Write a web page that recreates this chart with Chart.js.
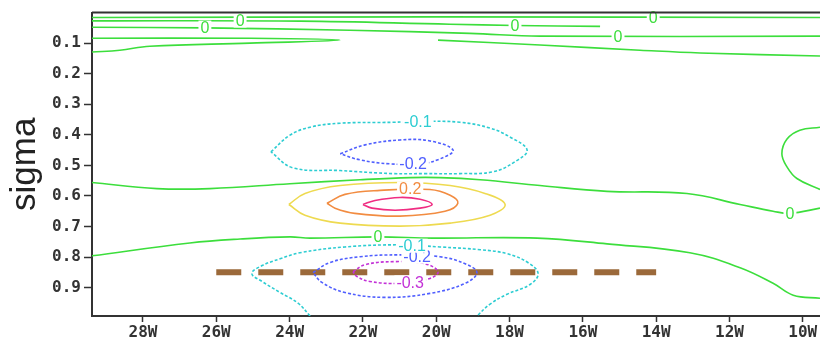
<!DOCTYPE html>
<html>
<head>
<meta charset="utf-8">
<script src="https://cdn.jsdelivr.net/npm/chart.js@4.4.0/dist/chart.umd.min.js"></script>
<style>
  html, body { margin: 0; padding: 0; background: #fff; overflow: hidden; }
  #wrap { width: 820px; height: 345px; }
</style>
</head>
<body>
<div id="wrap"><canvas id="chart" width="820" height="345"></canvas></div>
<script>
// axis ticks (longitude is negative for west)
var xTicks = [-28, -26, -24, -22, -20, -18, -16, -14, -12, -10];
var yTicks = [0.1, 0.2, 0.3, 0.4, 0.5, 0.6, 0.7, 0.8, 0.9];

// contour lines, as [longitude, sigma]
// zero contours near the top
var zeroTopA = [[-29.39, 0.016], [-20, 0.014], [-9.53, 0.016]];
var zeroTopB = [[-29.39, 0.027], [-23.72, 0.028], [-19.62, 0.038], [-17.85, 0.042], [-15.53, 0.045]];
var zeroTopC = [[-29.39, 0.048], [-26.31, 0.050], [-22.35, 0.058], [-19.08, 0.068], [-17.17, 0.077], [-9.53, 0.077]];
var zeroTopD = [[-29.39, 0.084], [-25.08, 0.084], [-22.62, 0.090], [-25.08, 0.100], [-27.81, 0.110], [-28.63, 0.123], [-29.39, 0.129]];
var zeroTopE = [[-19.95, 0.090], [-17.17, 0.106], [-14.44, 0.123], [-12.80, 0.132], [-9.53, 0.142]];
// zero contours in the middle
var zeroMid = [[-29.39, 0.556], [-27.62, 0.576], [-26.17, 0.576], [-23.99, 0.560], [-22.08, 0.547], [-20.71, 0.540],
  [-19.90, 0.540], [-18.80, 0.547], [-17.17, 0.566], [-15.34, 0.585], [-13.16, 0.592], [-11.71, 0.628],
  [-10.81, 0.650], [-10.35, 0.657], [-9.53, 0.640]];
var zeroRight = [[-9.53, 0.375], [-10.08, 0.385], [-10.43, 0.414], [-10.57, 0.462], [-10.43, 0.505], [-10.16, 0.543], [-9.53, 0.579]];
var zeroLow = [[-29.39, 0.796], [-26.72, 0.754], [-25.35, 0.741], [-23.99, 0.734], [-23.44, 0.738], [-21.59, 0.734],
  [-20.09, 0.738], [-17.25, 0.738], [-15.34, 0.757], [-13.08, 0.786], [-11.71, 0.835], [-10.81, 0.886],
  [-10.26, 0.925], [-9.53, 0.935]];
// upper dipole
var negOneUp = [[-24.51, 0.456], [-23.99, 0.401], [-23.44, 0.375], [-22.62, 0.362], [-21.18, 0.359], [-20.44, 0.356],
  [-19.35, 0.359], [-18.53, 0.378], [-17.99, 0.407], [-17.52, 0.450], [-17.85, 0.488], [-18.45, 0.521],
  [-19.35, 0.527], [-20.31, 0.527], [-21.18, 0.527], [-22.62, 0.517], [-23.91, 0.508], [-24.51, 0.456]];
var negTwoUp = [[-22.62, 0.462], [-21.94, 0.433], [-20.99, 0.417], [-20.17, 0.420], [-19.54, 0.450], [-19.90, 0.479],
  [-20.44, 0.495], [-21.26, 0.495], [-22.08, 0.482], [-22.62, 0.462]];
var posOne = [[-24.02, 0.628], [-23.58, 0.592], [-22.62, 0.566], [-20.99, 0.556], [-19.62, 0.566], [-18.67, 0.592],
  [-18.12, 0.628], [-18.53, 0.663], [-19.62, 0.689], [-20.99, 0.699], [-22.62, 0.689], [-23.58, 0.663], [-24.02, 0.628]];
var posTwo = [[-22.98, 0.624], [-22.49, 0.595], [-21.53, 0.582], [-20.17, 0.579], [-19.62, 0.598], [-19.41, 0.624],
  [-19.76, 0.650], [-20.99, 0.666], [-22.22, 0.657], [-22.76, 0.640], [-22.98, 0.624]];
var posThree = [[-22.00, 0.628], [-21.67, 0.615], [-20.99, 0.605], [-20.44, 0.611], [-20.11, 0.628], [-20.44, 0.640],
  [-21.12, 0.647], [-21.75, 0.640], [-22.00, 0.628]];
// lower negative cell
var negOneLow = [[-23.44, 0.993], [-23.77, 0.951], [-24.26, 0.916], [-24.75, 0.880], [-25.03, 0.854], [-24.75, 0.828],
  [-24.26, 0.806], [-23.72, 0.786], [-22.49, 0.767], [-20.99, 0.760], [-19.90, 0.767], [-18.80, 0.776],
  [-18.07, 0.789], [-17.50, 0.818], [-17.22, 0.854], [-17.44, 0.890], [-18.07, 0.922], [-18.53, 0.954], [-18.89, 0.993]];
var negTwoLow = [[-23.36, 0.851], [-22.90, 0.818], [-22.08, 0.799], [-20.99, 0.793], [-19.90, 0.799], [-19.21, 0.822],
  [-18.89, 0.851], [-19.21, 0.886], [-20.17, 0.919], [-21.40, 0.932], [-22.49, 0.916], [-23.12, 0.883], [-23.36, 0.851]];
var negThreeLow = [[-22.27, 0.848], [-21.94, 0.825], [-21.12, 0.815], [-20.31, 0.822], [-19.95, 0.848], [-20.17, 0.870],
  [-20.99, 0.886], [-21.81, 0.880], [-22.16, 0.864], [-22.27, 0.848]];
// section marker
var sectionLine = [[-26, 0.85], [-14, 0.85]];

// contour labels
var labelLevel = [0, 0, 0, 0, 0, 0, 0, -0.1, -0.2, 0.2, -0.2, -0.1, -0.3];
var labelLon = [-25.35, -26.31, -17.85, -14.08, -15.04, -10.35, -21.59, -20.50, -20.63, -20.71, -20.52, -20.66, -20.71];
var labelSig = [0.026, 0.049, 0.043, 0.016, 0.077, 0.657, 0.734, 0.356, 0.495, 0.576, 0.799, 0.763, 0.883];

var levelColors = {
  '0': 'rgb(60,222,60)',
  '-0.1': 'rgb(45,205,210)',
  '-0.2': 'rgb(80,95,255)',
  '-0.3': 'rgb(195,50,215)',
  '0.1': 'rgb(238,218,80)',
  '0.2': 'rgb(242,140,65)',
  '0.3': 'rgb(240,45,130)'
};

var contours = [
  [zeroTopA, 0], [zeroTopB, 0], [zeroTopC, 0], [zeroTopD, 0], [zeroTopE, 0],
  [zeroMid, 0], [zeroRight, 0], [zeroLow, 0],
  [negOneUp, -0.1], [negTwoUp, -0.2], [posOne, 0.1], [posTwo, 0.2], [posThree, 0.3],
  [negOneLow, -0.1], [negTwoLow, -0.2], [negThreeLow, -0.3]
];

function toPoints(list) {
  return list.map(function (p) { return { x: p[0], y: p[1] }; });
}

var datasets = contours.map(function (c) {
  return {
    data: toPoints(c[0]),
    showLine: true,
    pointRadius: 0,
    borderColor: levelColors[String(c[1])],
    borderWidth: 1.6,
    borderDash: c[1] < 0 ? [3, 2] : [],
    tension: 0.4,
    fill: false
  };
});

datasets.push({
  data: toPoints(sectionLine),
  showLine: true,
  pointRadius: 0,
  borderColor: 'rgb(155,105,58)',
  borderWidth: 6,
  borderDash: [25, 17],
  borderCapStyle: 'butt',
  tension: 0,
  fill: false
});

var FONT = "'Liberation Sans', Arial, sans-serif";
var TICKFONT = "'DejaVu Sans Mono', monospace";

var contourLabels = {
  id: 'contourLabels',
  afterDatasetsDraw: function (chart) {
    var ctx = chart.ctx;
    var xs = chart.scales.x, ys = chart.scales.y;
    ctx.save();
    ctx.font = '16px ' + FONT;
    ctx.textAlign = 'center';
    ctx.textBaseline = 'middle';
    for (var i = 0; i < labelLevel.length; i++) {
      var lev = labelLevel[i];
      var txt = lev === 0 ? '0' : lev.toFixed(1);
      var px = xs.getPixelForValue(labelLon[i]);
      var py = ys.getPixelForValue(labelSig[i]);
      var w = ctx.measureText(txt).width;
      ctx.fillStyle = '#fff';
      ctx.fillRect(px - w / 2 - 2, py - 7, w + 4, 14);
      ctx.fillStyle = levelColors[String(lev)];
      ctx.fillText(txt, px, py + 1);
    }
    ctx.restore();
  }
};

var frame = {
  id: 'frame',
  afterDraw: function (chart) {
    var a = chart.chartArea, ctx = chart.ctx;
    ctx.save();
    ctx.strokeStyle = '#333';
    ctx.lineWidth = 2;
    ctx.beginPath();
    ctx.moveTo(a.left, a.top);
    ctx.lineTo(a.right + 2, a.top);
    ctx.stroke();
    ctx.restore();
  }
};

new Chart(document.getElementById('chart'), {
  type: 'scatter',
  data: { datasets: datasets },
  options: {
    responsive: false,
    animation: false,
    devicePixelRatio: 1,
    layout: { padding: { top: 9, left: 0, right: 0, bottom: 0 } },
    plugins: { legend: { display: false }, tooltip: { enabled: false } },
    scales: {
      x: {
        type: 'linear',
        min: -29.39,
        max: -9.53,
        afterBuildTicks: function (scale) {
          scale.ticks = xTicks.map(function (v) { return { value: v }; });
        },
        afterFit: function (scale) { scale.height = 29; },
        grid: { drawOnChartArea: false, drawTicks: true, tickLength: 6, tickColor: '#333', tickWidth: 1.5 },
        border: { display: true, color: '#333', width: 2 },
        ticks: {
          color: '#333',
          padding: 1,
          maxRotation: 0,
          font: { family: TICKFONT, size: 16, weight: 'bold' },
          callback: function (v) { return Math.abs(v) + 'W'; }
        }
      },
      y: {
        type: 'linear',
        reverse: true,
        min: 0,
        max: 0.993,
        afterBuildTicks: function (scale) {
          scale.ticks = yTicks.map(function (v) { return { value: v }; });
        },
        afterFit: function (scale) { scale.width = 92; },
        grid: { drawOnChartArea: false, drawTicks: true, tickLength: 8, tickColor: '#333', tickWidth: 1.5 },
        border: { display: true, color: '#333', width: 2 },
        ticks: {
          color: '#333',
          padding: 3,
          font: { family: TICKFONT, size: 16, weight: 'bold' },
          callback: function (v) { return v.toFixed(1); }
        },
        title: {
          display: true,
          text: 'sigma',
          color: '#222',
          padding: { top: 4, bottom: 0 },
          font: { family: FONT, size: 35 }
        }
      }
    }
  },
  plugins: [contourLabels, frame]
});
</script>
</body>
</html>
